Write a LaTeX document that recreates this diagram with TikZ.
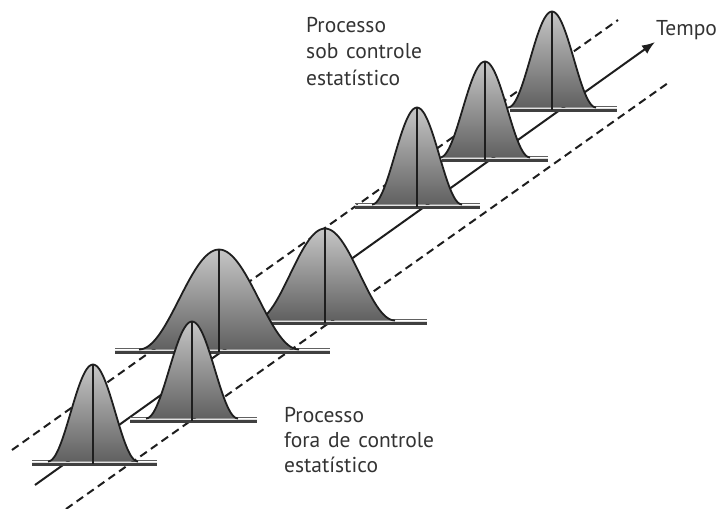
\documentclass[tikz,border=0pt]{standalone}
\usepackage{fontspec}
\setmainfont{PT Sans}[WordSpace=1.35]
\usetikzlibrary{arrows.meta}
\definecolor{ink}{HTML}{1E1E1E}
\definecolor{txt}{HTML}{333333}
\definecolor{shtop}{HTML}{C6C6C6}
\definecolor{shbot}{HTML}{606060}
\definecolor{barlt}{HTML}{E2E2E2}
\tikzset{
  curveline/.style={draw=ink, line width=1.8pt},
  vline/.style={draw=ink, line width=1.7pt},
  bardark/.style={draw=ink!85, line width=2.6pt},
  barthin/.style={draw=ink!70, line width=0.9pt},
  barlight/.style={draw=barlt, line width=1.4pt},
  limitline/.style={draw=ink, line width=2pt, dash pattern=on 8pt off 5pt},
  axisline/.style={draw=ink, line width=2pt, -{Latex[length=13pt,width=10pt]}},
  lbl/.style={font=\fontsize{21.5pt}{26pt}\selectfont, text=txt, inner sep=0pt, anchor=base west}
}
% c, y0, h, w, left, right
\newcommand\bellc[6]{%
  \pgfmathsetmacro\bellL{#1-#4}\pgfmathsetmacro\bellR{#1+#4}%
  \shade[top color=shtop, bottom color=shbot]
    plot[domain=\bellL:\bellR, samples=61, variable=\t] (\t,{#2-2.5-#3*(1+cos(180*(\t-#1)/#4))/2}) -- cycle;
  \draw[bardark] (#5,#2+0.6) -- (#6,#2+0.6);
  \draw[barthin] (#5,#2-3.2) -- (#6,#2-3.2);
  \draw[barlight] (#5,#2-1.8) -- (#6,#2-1.8);
  \draw[curveline] plot[domain=\bellL:\bellR, samples=61, variable=\t] (\t,{#2-2.5-#3*(1+cos(180*(\t-#1)/#4))/2});
  \draw[vline] (#1,#2-2.5-#3) -- (#1,#2);
}
\begin{document}
\begin{tikzpicture}[x=1pt,y=-1pt]
\useasboundingbox (0,0) rectangle (718,509);
% control limits
\coordinate (ulA) at (12,450);
\coordinate (ulB) at (618,20);
\coordinate (llA) at (66,509);
\coordinate (llB) at (668,83);
\draw[limitline] (ulA) -- (ulB);
\draw[limitline] (llA) -- (llB);
% time axis
\coordinate (axA) at (35,485);
\coordinate (axB) at (655,42);
\draw[axisline] (axA) -- (axB);
% distributions, back to front
\bellc{552}{110}{96}{44}{510}{617}
\bellc{485}{160}{96}{45}{442}{548}
\bellc{417}{207}{97}{45}{355}{480}
\bellc{325}{323}{92}{70}{268}{427}
\bellc{219}{352}{100}{80}{115}{330}
\bellc{192}{421}{97}{46}{130}{257}
\bellc{93}{464}{97}{45}{32}{157}
% labels
\node[lbl] (tempo) at (656,35) {Tempo};
\node[lbl] (in1) at (306,32) {Processo};
\node[lbl] (in2) at (306,58) {sob controle};
\node[lbl] (in3) at (306,85) {estatístico};
\node[lbl] (out1) at (284,422) {Processo};
\node[lbl] (out2) at (284,447) {fora de controle};
\node[lbl] (out3) at (284,472) {estatístico};
\end{tikzpicture}
\end{document}
